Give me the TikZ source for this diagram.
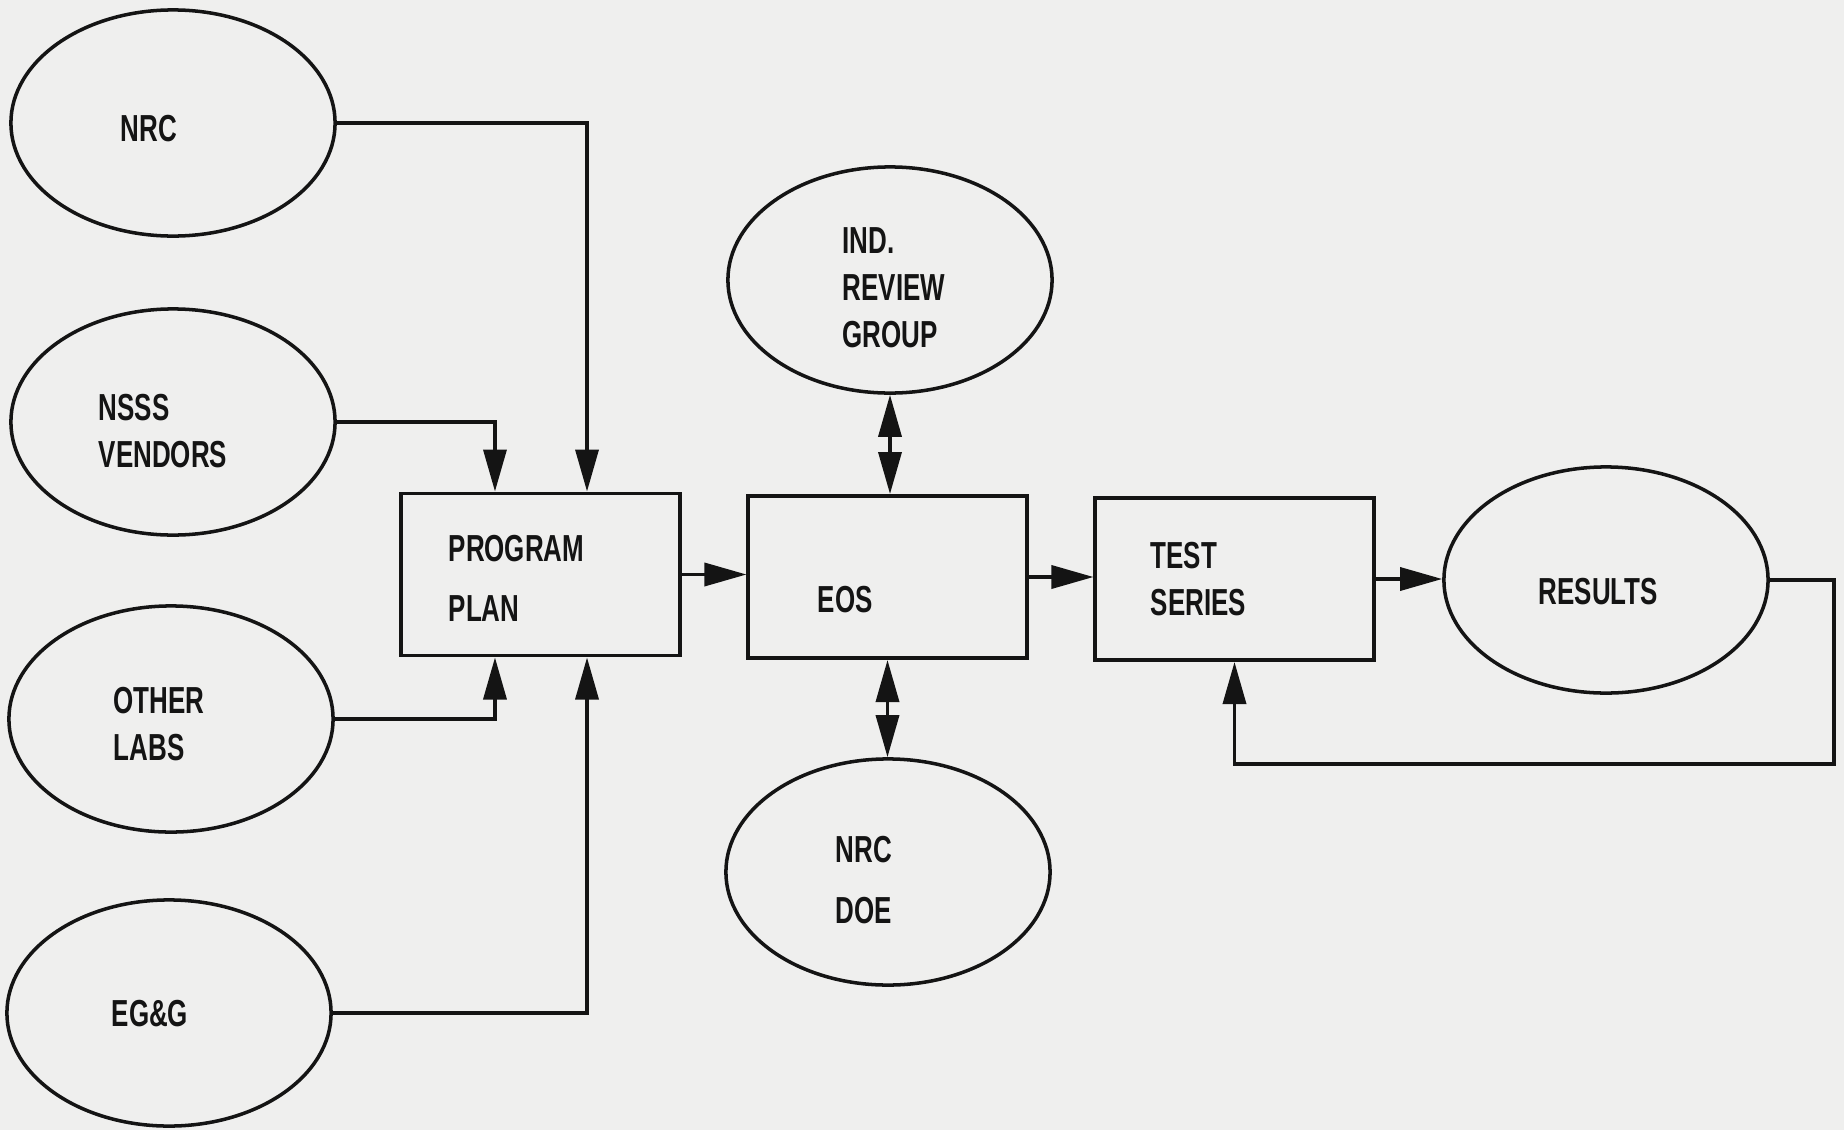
\documentclass[tikz,border=0pt]{standalone}
\usepackage{fontspec}
\newfontfamily\lbl[FakeStretch=0.69]{Liberation Sans}
\usetikzlibrary{shapes.geometric,arrows.meta}
\definecolor{paper}{HTML}{EFEFEE}
\definecolor{ink}{HTML}{141414}
\begin{document}
\begin{tikzpicture}[x=0.01cm,y=-0.01cm,
  oval/.style={ellipse,draw=ink,line width=1pt,minimum width=3.24cm,minimum height=2.26cm,inner sep=0pt},
  blk/.style={rectangle,draw=ink,line width=1.1pt,minimum width=2.78cm,minimum height=1.62cm,inner sep=0pt},
  txt/.style={font=\fontsize{10.7}{13.3}\selectfont\lbl\bfseries,text=ink,align=left,anchor=west,inner sep=0pt},
  tip/.tip={Triangle[length=4.2mm,width=2.3mm]},
  flow/.style={draw=ink,line width=1pt,-tip},
  both/.style={draw=ink,line width=1pt,tip-tip}
]
\fill[paper] (0,0) rectangle (1844,1130);
\useasboundingbox (0,0) rectangle (1844,1130);

% sources on the left
\node[oval] (nrc)  at (173,123)  {};
\node[oval] (nsss) at (173,422)  {};
\node[oval] (labs) at (171,719)  {};
\node[oval] (egg)  at (169,1013) {};

% main chain
\node[blk] (plan) at (540.5,574.5) {};
\node[blk] (eos)  at (887.5,577)   {};
\node[blk] (ts)   at (1234.5,579)  {};
\node[oval] (res) at (1606,580)    {};

% review and sponsors
\node[oval] (ind)  at (890,280) {};
\node[oval] (ndoe) at (888,872) {};

% labels
\node[txt] (t1)  at (120,129)  {NRC};
\node[txt] (t2)  at (98,431)   {NSSS\\VENDORS};
\node[txt] (t3)  at (113,724)  {OTHER\\LABS};
\node[txt] (t4)  at (111,1014) {EG\&G};
\node[txt] (t5)  at (448,578)  {PROGRAM\\[3.7pt]PLAN};
\node[txt] (t6)  at (817,600)  {EOS};
\node[txt] (t7)  at (1150,579) {TEST\\SERIES};
\node[txt] (t8)  at (1538,592) {RESULTS};
\node[txt] (t9)  at (842,288)  {IND.\\REVIEW\\GROUP};
\node[txt] (t10) at (835,880)  {NRC\\[4.3pt]DOE};

% inputs to the program plan
\draw[flow] (nrc.east)  -| ([xshift=0.465cm]plan.north);
\draw[flow] (nsss.east) -| ([xshift=-0.455cm]plan.north);
\draw[flow] (labs.east) -| ([xshift=-0.455cm]plan.south);
\draw[flow] (egg.east)  -| ([xshift=0.465cm]plan.south);

% forward flow
\draw[flow] (plan.east) -- (plan.east -| eos.west);
\draw[flow] (eos.east)  -- (eos.east -| ts.west);
\draw[flow] (ts.east)   -- (ts.east -| res.west);

% two-way links
\draw[both] (ind.south) -- (ind.south |- eos.north);
\draw[both] (eos.south) -- (eos.south |- ndoe.north);

% feedback from results
\coordinate (loop) at (1834,764);
\draw[flow] (res.east) -| (loop) -| (ts.south);
\end{tikzpicture}
\end{document}
